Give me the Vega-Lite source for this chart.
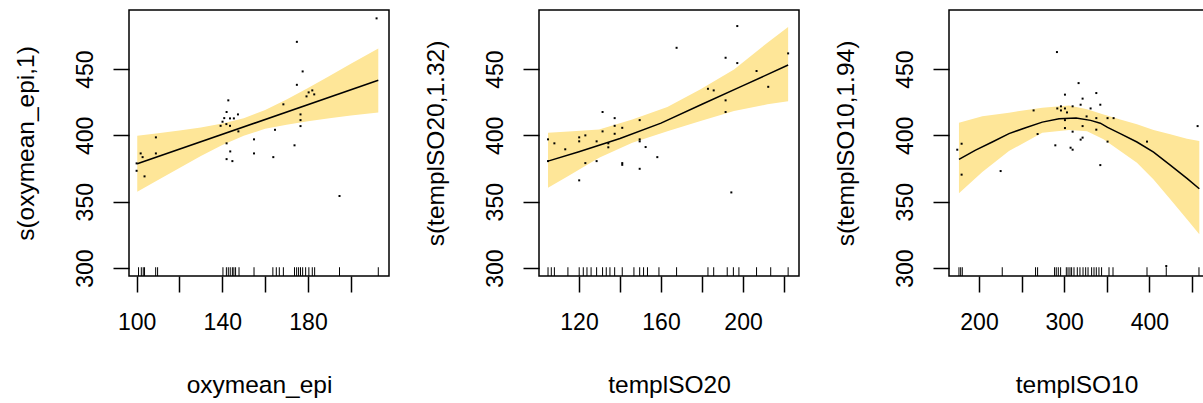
{
  "$schema": "https://vega.github.io/schema/vega-lite/v6.json",
  "background": "white",
  "padding": {"left": 12, "top": 9, "right": 0, "bottom": 0},
  "spacing": 150,
  "bounds": "flush",
  "datasets": {
    "p1pts": [
      {"x":100,"y":378.9},{"x":100,"y":373.3},{"x":101.9,"y":386.4},{"x":102.8,"y":383.6},{"x":103.7,"y":369.1},{"x":109,"y":398.5},{"x":109,"y":386.4},{"x":142.8,"y":426.4},{"x":142,"y":417.6},{"x":140.9,"y":413},{"x":140.1,"y":410.3},{"x":139.2,"y":407.2},{"x":141.9,"y":408.5},{"x":143.6,"y":412.8},{"x":145.4,"y":412.8},{"x":147.3,"y":415.8},{"x":143.6,"y":407.2},{"x":147.5,"y":403},{"x":142,"y":394},{"x":143.7,"y":387.9},{"x":142,"y":382.1},{"x":144.7,"y":380.6},{"x":154.8,"y":397},{"x":154.8,"y":386.4},{"x":212,"y":488.2},{"x":174.8,"y":470.5},{"x":177.5,"y":448.2},{"x":174.8,"y":438.1},{"x":168.5,"y":423.4},{"x":179.3,"y":429.4},{"x":180.3,"y":432.4},{"x":182,"y":433.9},{"x":182.9,"y":430.9},{"x":176.5,"y":415.8},{"x":176.5,"y":411.5},{"x":176.5,"y":407},{"x":164.6,"y":404.2},{"x":173.7,"y":392.5},{"x":163.8,"y":383.6},{"x":194.7,"y":354.3}
    ],
    "p1rug": [
      {"x":100.9},{"x":102.2},{"x":103.1},{"x":103.7},{"x":108.9},{"x":109.8},{"x":140.3},{"x":141.9},{"x":142.8},{"x":143.7},{"x":144.7},{"x":145.4},{"x":146.2},{"x":147.8},{"x":154.8},{"x":163.6},{"x":165.2},{"x":166.6},{"x":168.5},{"x":173.7},{"x":174.7},{"x":175.6},{"x":176.5},{"x":177.5},{"x":178.9},{"x":180.4},{"x":182},{"x":183.1},{"x":194.7},{"x":212.8}
    ],
    "p1line": [{"x":100.3,"y":378.6},{"x":212.8,"y":441.5}],
    "p1band": [
      {"x":100.3,"lo":357.5,"hi":399.7},{"x":110,"lo":366.4,"hi":401.6},{"x":120,"lo":375.5,"hi":403.7},{"x":130,"lo":384.4,"hi":406},{"x":140,"lo":392.7,"hi":408.9},{"x":150,"lo":399.8,"hi":413},{"x":160,"lo":404.9,"hi":419.1},{"x":170,"lo":408.1,"hi":427.1},{"x":180,"lo":410.7,"hi":435.7},{"x":190,"lo":412.9,"hi":444.7},{"x":200,"lo":414.9,"hi":453.9},{"x":212.8,"lo":417.3,"hi":465.5}
    ],
    "p2pts": [
      {"x":104.9,"y":397},{"x":108,"y":394},{"x":113.3,"y":389.5},{"x":104.9,"y":380.6},{"x":120.1,"y":398.5},{"x":120.1,"y":395.5},{"x":123.1,"y":400},{"x":123.1,"y":379.1},{"x":120.1,"y":366.1},{"x":128.6,"y":395.5},{"x":128.6,"y":380.6},{"x":131.5,"y":417.6},{"x":131.5,"y":403},{"x":134.3,"y":394},{"x":134.3,"y":391},{"x":137.4,"y":413},{"x":137.4,"y":407.2},{"x":137.4,"y":401.2},{"x":141.1,"y":405.7},{"x":141.1,"y":379.1},{"x":141.1,"y":377.8},{"x":149.6,"y":411.5},{"x":149.6,"y":397},{"x":149.6,"y":395.5},{"x":149.6,"y":374.8},{"x":152.5,"y":391.2},{"x":158.2,"y":383.6},{"x":167.6,"y":466},{"x":182.9,"y":435.1},{"x":185.7,"y":433.9},{"x":191.5,"y":458.5},{"x":191.5,"y":426.4},{"x":191.5,"y":417.6},{"x":197.2,"y":482.4},{"x":197.2,"y":454.5},{"x":194.3,"y":357},{"x":206.6,"y":448.5},{"x":212.3,"y":436.6},{"x":222,"y":461.8}
    ],
    "p2rug": [
      {"x":104.9},{"x":106.5},{"x":108},{"x":114.6},{"x":120.1},{"x":122.1},{"x":123.9},{"x":125.9},{"x":128.6},{"x":131.5},{"x":133.3},{"x":135.1},{"x":137.4},{"x":141.1},{"x":146.8},{"x":149.6},{"x":151.5},{"x":153.4},{"x":159},{"x":167.6},{"x":182.9},{"x":185.7},{"x":192.3},{"x":195.3},{"x":198},{"x":206.6},{"x":213.5},{"x":222}
    ],
    "p2line": [{"x":104.9,"y":380.6},{"x":120,"y":387.6},{"x":140,"y":397.6},{"x":160,"y":409.2},{"x":180,"y":423.5},{"x":200,"y":437.5},{"x":222,"y":453}],
    "p2band": [
      {"x":104.9,"lo":360.5,"hi":402},{"x":115,"lo":369.5,"hi":403},{"x":129.8,"lo":383.1,"hi":404.5},{"x":146,"lo":394.4,"hi":412},{"x":163.1,"lo":403.2,"hi":421.3},{"x":179.3,"lo":410.8,"hi":434.7},{"x":195.6,"lo":418.3,"hi":449.7},{"x":211.9,"lo":423.4,"hi":469.8},{"x":222,"lo":425.8,"hi":481.6}
    ],
    "p3pts": [
      {"x":174.5,"y":389.2},{"x":179.6,"y":393.7},{"x":179.6,"y":370.4},{"x":225.4,"y":373.1},{"x":264.1,"y":418.8},{"x":268.8,"y":401},{"x":291.5,"y":462.8},{"x":289.6,"y":392.5},{"x":300.9,"y":430.7},{"x":291.9,"y":420.3},{"x":296.2,"y":421.9},{"x":296.2,"y":418.8},{"x":300.9,"y":420.3},{"x":303.3,"y":417.3},{"x":309.9,"y":421.9},{"x":300.9,"y":411.5},{"x":300.9,"y":405.5},{"x":309.9,"y":402.8},{"x":307.5,"y":390.7},{"x":309.9,"y":389.2},{"x":316.9,"y":439.4},{"x":321.6,"y":427.7},{"x":319.3,"y":423.1},{"x":337.7,"y":431.9},{"x":342.4,"y":423.1},{"x":331,"y":420.3},{"x":326.3,"y":414.3},{"x":337.7,"y":413},{"x":350.9,"y":413},{"x":358,"y":413},{"x":321.6,"y":407},{"x":337.7,"y":404.3},{"x":321.6,"y":398.3},{"x":319.3,"y":396.8},{"x":350.9,"y":395.3},{"x":342.4,"y":377.6},{"x":397.2,"y":395.3},{"x":456.6,"y":407},{"x":419.8,"y":301.5}
    ],
    "p3rug": [
      {"x":176.5},{"x":178.5},{"x":180.4},{"x":227.3},{"x":266.4},{"x":268.8},{"x":288.7},{"x":290.7},{"x":293.1},{"x":295.8},{"x":302.5},{"x":304.5},{"x":306.8},{"x":308.7},{"x":311.5},{"x":315.4},{"x":318.5},{"x":322.1},{"x":325.2},{"x":328},{"x":332.2},{"x":335},{"x":337.7},{"x":340.8},{"x":343.9},{"x":352.6},{"x":357.3},{"x":397.2},{"x":419.8},{"x":458.2}
    ],
    "p3line": [{"x":176.5,"y":381.9},{"x":196,"y":388.9},{"x":215.6,"y":395},{"x":235.2,"y":401.3},{"x":254.7,"y":405.8},{"x":274.3,"y":410},{"x":294,"y":412.5},{"x":314,"y":413},{"x":331,"y":411.3},{"x":342.4,"y":409.2},{"x":350.9,"y":406},{"x":365.8,"y":401.3},{"x":385.4,"y":395},{"x":404.9,"y":387.4},{"x":424.5,"y":377.6},{"x":444.1,"y":367.6},{"x":458.6,"y":359.8}],
    "p3band": [
      {"x":176.5,"lo":356.3,"hi":409.6},{"x":203.9,"lo":372.3,"hi":414.5},{"x":235.2,"lo":388.2,"hi":417.1},{"x":274.3,"lo":402,"hi":420.9},{"x":305.6,"lo":404,"hi":422.6},{"x":326.8,"lo":403.2,"hi":419.6},{"x":346.2,"lo":397,"hi":415.8},{"x":365.8,"lo":388.2,"hi":412},{"x":385.4,"lo":379.4,"hi":408.3},{"x":404.9,"lo":366.8,"hi":404},{"x":424.5,"lo":351.8,"hi":400.8},{"x":444.1,"lo":336.7,"hi":397.5},{"x":458.6,"lo":325.4,"hi":395.7}
    ]
  },
  "hconcat": [
    {
      "width": 260, "height": 266,
      "layer": [
        {"data": {"name": "p1band"}, "mark": {"type": "area", "color": "#FEE698", "opacity": 1},
         "encoding": {
           "x": {"field": "x", "type": "quantitative", "scale": {"domain": [96.45, 217.8], "nice": false, "zero": false}, "axis": {"title": "oxymean_epi", "values": [100,120,140,160,180,200], "labelExpr": "(datum.value - 100) % 40 == 0 ? datum.label : ''"}},
           "y": {"field": "lo", "type": "quantitative", "scale": {"domain": [294, 494.5], "nice": false, "zero": false}, "axis": {"title": "s(oxymean_epi,1)", "values": [300,350,400,450]}},
           "y2": {"field": "hi"}}},
        {"data": {"name": "p1line"}, "mark": {"type": "line", "color": "black", "strokeWidth": 1.5},
         "encoding": {
           "x": {"field": "x", "type": "quantitative", "scale": {"domain": [96.45, 217.8], "nice": false, "zero": false}, "axis": {"title": "oxymean_epi", "values": [100,120,140,160,180,200], "labelExpr": "(datum.value - 100) % 40 == 0 ? datum.label : ''"}},
           "y": {"field": "y", "type": "quantitative", "scale": {"domain": [294, 494.5], "nice": false, "zero": false}, "axis": {"title": "s(oxymean_epi,1)", "values": [300,350,400,450]}}}},
        {"data": {"name": "p1pts"}, "mark": {"type": "square", "color": "black", "size": 4, "opacity": 1},
         "encoding": {
           "x": {"field": "x", "type": "quantitative", "scale": {"domain": [96.45, 217.8], "nice": false, "zero": false}, "axis": {"title": "oxymean_epi", "values": [100,120,140,160,180,200], "labelExpr": "(datum.value - 100) % 40 == 0 ? datum.label : ''"}},
           "y": {"field": "y", "type": "quantitative", "scale": {"domain": [294, 494.5], "nice": false, "zero": false}, "axis": {"title": "s(oxymean_epi,1)", "values": [300,350,400,450]}}}},
        {"data": {"name": "p1rug"}, "mark": {"type": "rule", "color": "black", "strokeWidth": 1},
         "encoding": {
           "x": {"field": "x", "type": "quantitative", "scale": {"domain": [96.45, 217.8], "nice": false, "zero": false}, "axis": {"title": "oxymean_epi", "values": [100,120,140,160,180,200], "labelExpr": "(datum.value - 100) % 40 == 0 ? datum.label : ''"}},
           "y": {"datum": 294, "type": "quantitative", "scale": {"domain": [294, 494.5], "nice": false, "zero": false}, "axis": {"title": "s(oxymean_epi,1)", "values": [300,350,400,450]}},
           "y2": {"datum": 300.6}}}
      ]
    },
    {
      "width": 260, "height": 266,
      "layer": [
        {"data": {"name": "p2band"}, "mark": {"type": "area", "color": "#FEE698", "opacity": 1},
         "encoding": {
           "x": {"field": "x", "type": "quantitative", "scale": {"domain": [100.5, 227.3], "nice": false, "zero": false}, "axis": {"title": "templSO20", "values": [120,140,160,180,200,220], "labelExpr": "(datum.value - 120) % 40 == 0 ? datum.label : ''"}},
           "y": {"field": "lo", "type": "quantitative", "scale": {"domain": [294, 494.5], "nice": false, "zero": false}, "axis": {"title": "s(templSO20,1.32)", "values": [300,350,400,450]}},
           "y2": {"field": "hi"}}},
        {"data": {"name": "p2line"}, "mark": {"type": "line", "color": "black", "strokeWidth": 1.5},
         "encoding": {
           "x": {"field": "x", "type": "quantitative", "scale": {"domain": [100.5, 227.3], "nice": false, "zero": false}, "axis": {"title": "templSO20", "values": [120,140,160,180,200,220], "labelExpr": "(datum.value - 120) % 40 == 0 ? datum.label : ''"}},
           "y": {"field": "y", "type": "quantitative", "scale": {"domain": [294, 494.5], "nice": false, "zero": false}, "axis": {"title": "s(templSO20,1.32)", "values": [300,350,400,450]}}}},
        {"data": {"name": "p2pts"}, "mark": {"type": "square", "color": "black", "size": 4, "opacity": 1},
         "encoding": {
           "x": {"field": "x", "type": "quantitative", "scale": {"domain": [100.5, 227.3], "nice": false, "zero": false}, "axis": {"title": "templSO20", "values": [120,140,160,180,200,220], "labelExpr": "(datum.value - 120) % 40 == 0 ? datum.label : ''"}},
           "y": {"field": "y", "type": "quantitative", "scale": {"domain": [294, 494.5], "nice": false, "zero": false}, "axis": {"title": "s(templSO20,1.32)", "values": [300,350,400,450]}}}},
        {"data": {"name": "p2rug"}, "mark": {"type": "rule", "color": "black", "strokeWidth": 1},
         "encoding": {
           "x": {"field": "x", "type": "quantitative", "scale": {"domain": [100.5, 227.3], "nice": false, "zero": false}, "axis": {"title": "templSO20", "values": [120,140,160,180,200,220], "labelExpr": "(datum.value - 120) % 40 == 0 ? datum.label : ''"}},
           "y": {"datum": 294, "type": "quantitative", "scale": {"domain": [294, 494.5], "nice": false, "zero": false}, "axis": {"title": "s(templSO20,1.32)", "values": [300,350,400,450]}},
           "y2": {"datum": 300.6}}}
      ]
    },
    {
      "width": 255, "height": 266,
      "layer": [
        {"data": {"name": "p3band"}, "mark": {"type": "area", "color": "#FEE698", "opacity": 1},
         "encoding": {
           "x": {"field": "x", "type": "quantitative", "scale": {"domain": [164.8, 464.1], "nice": false, "zero": false}, "axis": {"title": "templSO10", "values": [200,250,300,350,400,450], "labelExpr": "datum.value % 100 == 0 ? datum.label : ''"}},
           "y": {"field": "lo", "type": "quantitative", "scale": {"domain": [294, 494.5], "nice": false, "zero": false}, "axis": {"title": "s(templSO10,1.94)", "values": [300,350,400,450]}},
           "y2": {"field": "hi"}}},
        {"data": {"name": "p3line"}, "mark": {"type": "line", "color": "black", "strokeWidth": 1.5},
         "encoding": {
           "x": {"field": "x", "type": "quantitative", "scale": {"domain": [164.8, 464.1], "nice": false, "zero": false}, "axis": {"title": "templSO10", "values": [200,250,300,350,400,450], "labelExpr": "datum.value % 100 == 0 ? datum.label : ''"}},
           "y": {"field": "y", "type": "quantitative", "scale": {"domain": [294, 494.5], "nice": false, "zero": false}, "axis": {"title": "s(templSO10,1.94)", "values": [300,350,400,450]}}}},
        {"data": {"name": "p3pts"}, "mark": {"type": "square", "color": "black", "size": 4, "opacity": 1},
         "encoding": {
           "x": {"field": "x", "type": "quantitative", "scale": {"domain": [164.8, 464.1], "nice": false, "zero": false}, "axis": {"title": "templSO10", "values": [200,250,300,350,400,450], "labelExpr": "datum.value % 100 == 0 ? datum.label : ''"}},
           "y": {"field": "y", "type": "quantitative", "scale": {"domain": [294, 494.5], "nice": false, "zero": false}, "axis": {"title": "s(templSO10,1.94)", "values": [300,350,400,450]}}}},
        {"data": {"name": "p3rug"}, "mark": {"type": "rule", "color": "black", "strokeWidth": 1},
         "encoding": {
           "x": {"field": "x", "type": "quantitative", "scale": {"domain": [164.8, 464.1], "nice": false, "zero": false}, "axis": {"title": "templSO10", "values": [200,250,300,350,400,450], "labelExpr": "datum.value % 100 == 0 ? datum.label : ''"}},
           "y": {"datum": 294, "type": "quantitative", "scale": {"domain": [294, 494.5], "nice": false, "zero": false}, "axis": {"title": "s(templSO10,1.94)", "values": [300,350,400,450]}},
           "y2": {"datum": 300.6}}}
      ]
    }
  ],
  "config": {
    "view": {"stroke": "black", "strokeWidth": 1.5},
    "axis": {
      "labelFont": "Liberation Sans", "titleFont": "Liberation Sans",
      "labelFontSize": 23, "titleFontSize": 24.5,
      "labelColor": "black", "titleColor": "black", "titleFontWeight": "normal",
      "tickColor": "black", "tickWidth": 1.5, "tickSize": 16,
      "domain": false, "grid": false, "labelOverlap": false, "labelFlush": false, "labelBound": false
    },
    "axisX": {"labelPadding": 19, "titleY": 109.5, "titleBaseline": "middle"},
    "axisY": {"labelAngle": -90, "labelAlign": "center", "labelBaseline": "bottom", "labelPadding": 16, "titleX": -103, "titleY": 133, "titleAngle": -90, "titleBaseline": "middle", "titleAlign": "center"}
  }
}
